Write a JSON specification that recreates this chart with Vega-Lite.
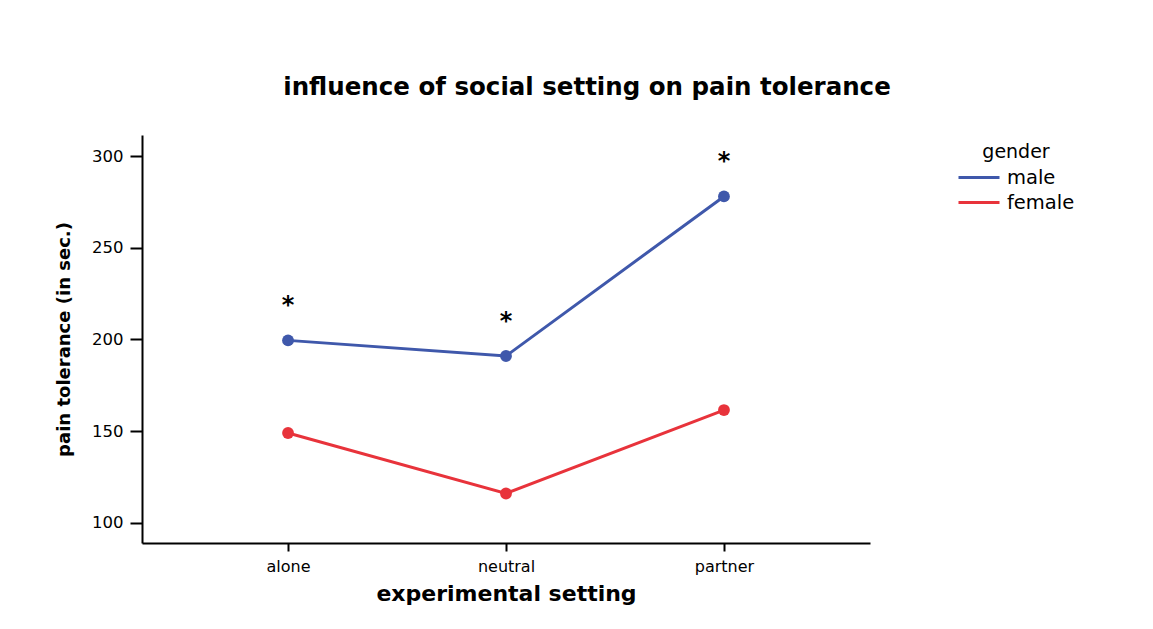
{
  "$schema": "https://vega.github.io/schema/vega-lite/v6.json",
  "width": 728,
  "height": 408,
  "autosize": {"type": "none"},
  "padding": {"left": 142, "top": 135, "right": 283, "bottom": 86},
  "background": "white",
  "title": {
    "text": "influence of social setting on pain tolerance",
    "font": "DejaVu Sans",
    "fontSize": 24.5,
    "fontWeight": "bold",
    "color": "black",
    "anchor": "middle",
    "dx": 81,
    "offset": 35
  },
  "data": {
    "values": [
      {"setting": "alone", "gender": "male", "tolerance": 199.5, "sig": "*"},
      {"setting": "neutral", "gender": "male", "tolerance": 191, "sig": "*"},
      {"setting": "partner", "gender": "male", "tolerance": 278, "sig": "*"},
      {"setting": "alone", "gender": "female", "tolerance": 149, "sig": ""},
      {"setting": "neutral", "gender": "female", "tolerance": 116, "sig": ""},
      {"setting": "partner", "gender": "female", "tolerance": 161.5, "sig": ""}
    ]
  },
  "encoding": {
    "x": {
      "field": "setting",
      "type": "nominal",
      "sort": ["alone", "neutral", "partner"],
      "scale": {"type": "point", "padding": 0.67},
      "axis": {
        "title": "experimental setting",
        "labelAngle": 0,
        "labelFont": "DejaVu Sans",
        "labelFontSize": 16,
        "labelColor": "black",
        "labelPadding": 7,
        "tickSize": 8,
        "tickWidth": 2,
        "tickColor": "black",
        "domainColor": "black",
        "domainWidth": 2,
        "titleFont": "DejaVu Sans",
        "titleFontSize": 22,
        "titleFontWeight": "bold",
        "titleColor": "black",
        "titlePadding": 9
      }
    },
    "y": {
      "field": "tolerance",
      "type": "quantitative",
      "scale": {"domain": [89, 311.5], "nice": false, "zero": false},
      "axis": {
        "title": "pain tolerance (in sec.)",
        "values": [100, 150, 200, 250, 300],
        "grid": false,
        "labelFont": "DejaVu Sans",
        "labelFontSize": 16.5,
        "labelColor": "black",
        "labelPadding": 7,
        "tickSize": 12,
        "tickWidth": 2,
        "tickColor": "black",
        "domainColor": "black",
        "domainWidth": 2,
        "titleFont": "DejaVu Sans",
        "titleFontSize": 18,
        "titleFontWeight": "bold",
        "titleColor": "black",
        "titlePadding": 18
      }
    },
    "color": {
      "field": "gender",
      "type": "nominal",
      "sort": ["male", "female"],
      "scale": {"domain": ["male", "female"], "range": ["#3f58ab", "#e8333b"]},
      "legend": {
        "title": "gender",
        "orient": "none",
        "legendX": 815,
        "legendY": 8,
        "titleAnchor": "middle",
        "titleFont": "DejaVu Sans",
        "titleFontSize": 19,
        "titleFontWeight": "normal",
        "titleColor": "black",
        "labelFont": "DejaVu Sans",
        "labelFontSize": 19.5,
        "labelColor": "black",
        "symbolType": "stroke",
        "symbolSize": 1681,
        "symbolStrokeWidth": 3,
        "labelOffset": 6,
        "clipHeight": 23,
        "rowPadding": 2,
        "titlePadding": 4
      }
    }
  },
  "layer": [
    {"mark": {"type": "line", "strokeWidth": 3}},
    {"mark": {"type": "point", "filled": true, "opacity": 1, "size": 140}},
    {
      "mark": {"type": "text", "font": "DejaVu Sans", "fontSize": 24, "fontWeight": "bold", "color": "black", "dy": -34, "baseline": "middle"},
      "encoding": {"text": {"field": "sig"}, "color": {"value": "black"}}
    }
  ],
  "config": {"view": {"stroke": null}}
}
